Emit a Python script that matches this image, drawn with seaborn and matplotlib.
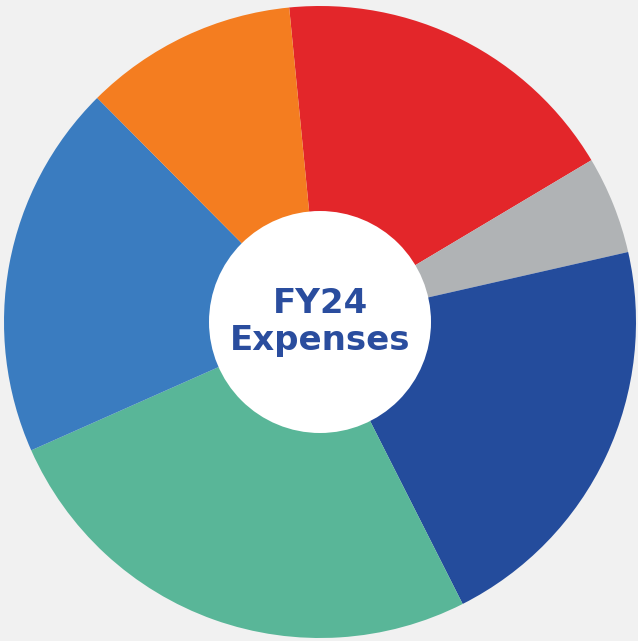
import matplotlib
matplotlib.use("Agg")
import matplotlib.pyplot as plt
import seaborn as sns
from matplotlib.patches import Circle

# Data (share of FY24 expenses, %, read clockwise from the top)
categories = ["Segment 1", "Segment 2", "Segment 3", "Segment 4", "Segment 5", "Segment 6"]
values = [18.0, 5.0, 21.1, 25.8, 19.2, 10.9]
colors = ["#e3262a", "#b0b3b5", "#244c9c", "#59b698", "#3a7cc0", "#f47d20"]
center_lines = ["FY24", "Expenses"]

sns.set_theme(style="white")
plt.rcParams['font.family'] = ['DejaVu Sans']

W, H = 638, 641
fig = plt.figure(figsize=(W / 100, H / 100), dpi=100)
fig.patch.set_facecolor("#f1f1f1")
ax = fig.add_axes([0, 0, 1, 1])
ax.set_facecolor("#f1f1f1")

cx, cy, R = 320, H - 322, 316
palette = sns.color_palette(colors)
ax.pie(values, colors=palette, startangle=95.6, counterclock=False,
       center=(cx, cy), radius=R, wedgeprops=dict(linewidth=0))
ax.add_patch(Circle((cx, cy), 111, facecolor="white", edgecolor="none", zorder=3))

txt_color = "#2a4d9e"
ax.text(cx, H - 313, center_lines[0], ha="center", va="baseline",
        fontsize=24.5, fontweight="bold", color=txt_color, zorder=4)
ax.text(cx, H - 350, center_lines[1], ha="center", va="baseline",
        fontsize=24.5, fontweight="bold", color=txt_color, zorder=4)

ax.set_xlim(0, W)
ax.set_ylim(0, H)
ax.set_aspect("equal")
ax.axis("off")

fig.savefig("out.png", dpi=100, facecolor=fig.get_facecolor())
